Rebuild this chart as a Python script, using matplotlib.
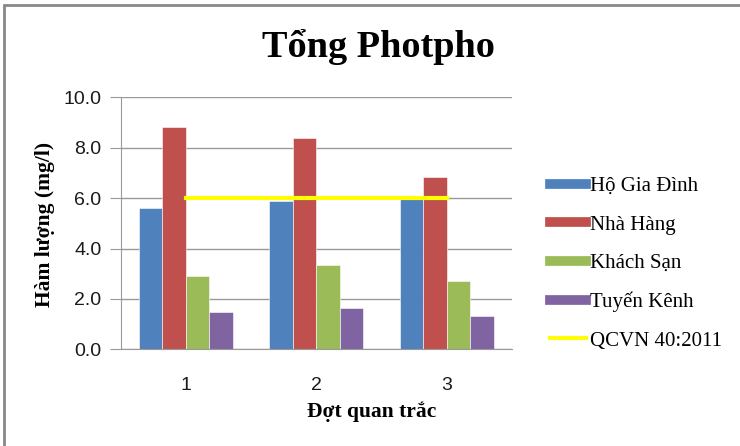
import numpy as np
import matplotlib.pyplot as plt
from matplotlib.lines import Line2D
from matplotlib.patches import Rectangle

# Đợt quan trắc
dot = ['1', '2', '3']
ho_gia_dinh = [5.6, 5.88, 6.0]
nha_hang = [8.81, 8.38, 6.85]
khach_san = [2.9, 3.33, 2.72]
tuyen_kenh = [1.47, 1.63, 1.33]
qcvn = [6.0, 6.0, 6.0]

series = [ho_gia_dinh, nha_hang, khach_san, tuyen_kenh]
names = ['Hộ Gia Đình', 'Nhà Hàng', 'Khách Sạn', 'Tuyến Kênh']
colors = ['#4F81BD', '#C0504D', '#9BBB59', '#8064A2']

serif = 'Liberation Serif'
sans = 'Liberation Sans'

fig = plt.figure(figsize=(7.4, 4.46), dpi=100)
ax = fig.add_axes([120.7 / 740, 1 - 349.3 / 446, 391.3 / 740, 252 / 446])

x = np.arange(1, len(dot) + 1)
w = 0.18
for i, (vals, c) in enumerate(zip(series, colors)):
    ax.bar(x + (i - 1.5) * w, vals, width=w, color=c, edgecolor='white',
           linewidth=0.4, zorder=2)

ax.plot(x, qcvn, color='#FFFF00', lw=3, zorder=3)

ax.set_xlim(0.5, 3.5)
ax.set_ylim(0, 10)
ax.set_yticks(np.arange(0, 10.1, 2))
ax.set_yticklabels([f'{v:.1f}' for v in np.arange(0, 10.1, 2)],
                   fontfamily=sans, fontsize=14, color='#1a1a1a')
ax.set_xticks(x)
ax.set_xticklabels(dot, fontfamily=sans, fontsize=14, color='#1a1a1a')
ax.tick_params(axis='x', length=0, pad=20)
ax.tick_params(axis='y', length=8, color='#999999', pad=6)
ax.grid(axis='y', color='#999999', lw=1, zorder=0)
for s in ['top', 'right']:
    ax.spines[s].set_visible(False)
ax.spines['left'].set_color('#999999')
ax.spines['bottom'].set_color('#999999')

fig.text(0.5 * (262 + 495) / 740, 1 - 47 / 446, 'Tổng Photpho', ha='center',
         va='center', fontfamily=serif, fontweight='bold', fontsize=27.5)
fig.text(372 / 740, 1 - 412 / 446, 'Đợt quan trắc', ha='center', va='center',
         fontfamily=serif, fontweight='bold', fontsize=15.5)
fig.text(45 / 740, 1 - 224 / 446, 'Hàm lượng (mg/l)', ha='center', va='center',
         rotation=90, fontfamily=serif, fontweight='bold', fontsize=15.5)

handles = [Line2D([], [], color=c, lw=7) for c in colors]
handles.append(Line2D([], [], color='#FFFF00', lw=3))
fig.legend(handles, names + ['QCVN 40:2011'], loc='upper left',
           bbox_to_anchor=(531 / 740, 1 - 158 / 446), frameon=False,
           prop={'family': serif, 'size': 15}, handlelength=1.75,
           handletextpad=0.2, labelspacing=0.9)

fig.add_artist(Rectangle((3.5 / 740, -0.1), 1.2, 1 - 5 / 446 + 0.1,
                         transform=fig.transFigure, fill=False,
                         edgecolor='#888888', lw=2))

fig.savefig('out.png', dpi=100)
